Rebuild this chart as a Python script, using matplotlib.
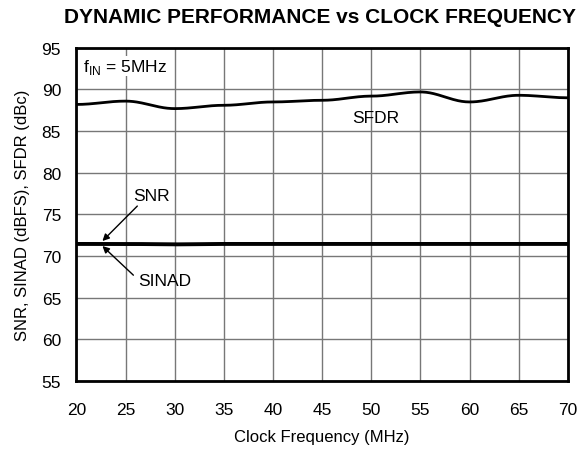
import numpy as np
from matplotlib import pyplot as plt

# clock frequency (MHz)
freq = [20, 25, 30, 35, 40, 45, 50, 55, 60, 65, 70]
sfdr = [88.2, 88.6, 87.7, 88.1, 88.5, 88.7, 89.2, 89.7, 88.5, 89.3, 89.0]
snr = [71.5, 71.5, 71.45, 71.5, 71.5, 71.5, 71.5, 71.5, 71.5, 71.5, 71.5]
sinad = [71.4, 71.4, 71.35, 71.4, 71.4, 71.4, 71.4, 71.4, 71.4, 71.4, 71.4]

xticks = np.arange(20, 75, 5)
yticks = np.arange(55, 100, 5)

plt.rcParams['font.family'] = ['Liberation Sans', 'DejaVu Sans']

fig = plt.figure(figsize=(5.83, 4.52), dpi=100)
ax = fig.add_axes([0.131, 0.155, 0.843, 0.737])

# smooth the read points for the drawn curves (cosine blend)
xs = np.linspace(20, 70, 400)
def smooth(x, y):
    out = np.empty_like(xs)
    for i, xv in enumerate(xs):
        j = min(np.searchsorted(x, xv, side='right') - 1, len(x) - 2)
        t = (xv - x[j]) / (x[j + 1] - x[j])
        w = (1 - np.cos(np.pi * t)) / 2
        out[i] = y[j] * (1 - w) + y[j + 1] * w
    return out

ax.plot(xs, smooth(freq, sfdr), color='black', lw=2)
ax.plot(xs, smooth(freq, snr), color='black', lw=2.2)
ax.plot(xs, smooth(freq, sinad), color='black', lw=2.2)

ax.set_xlim(20, 70)
ax.set_ylim(55, 95)
ax.set_xticks(xticks)
ax.set_yticks(yticks)
ax.tick_params(axis='x', length=0, labelsize=12.5, pad=15)
ax.tick_params(axis='y', length=0, labelsize=12.5, pad=11)
ax.grid(True, color='#777777', lw=1)
for s in ax.spines.values():
    s.set_linewidth(2)

ax.set_xlabel('Clock Frequency (MHz)', fontsize=12, labelpad=9)
ax.set_ylabel('SNR, SINAD (dBFS), SFDR (dBc)', fontsize=12, labelpad=8)
fig.text(0.549, 0.962, 'DYNAMIC PERFORMANCE vs CLOCK FREQUENCY',
         ha='center', va='center', fontsize=15, fontweight='bold')

ax.text(20.7, 92.8, r'f$_{\mathregular{IN}}$ = 5MHz', fontsize=12.5, va='center',
        bbox=dict(facecolor='white', edgecolor='none', pad=0.5))
ax.text(50.5, 86.6, 'SFDR', fontsize=12.5, ha='center', va='center')
ax.text(27.6, 77.3, 'SNR', fontsize=12.5, ha='center', va='center')
ax.text(29.0, 67.1, 'SINAD', fontsize=12.5, ha='center', va='center')
ax.annotate('', xy=(22.65, 71.8), xytext=(26.2, 76.0),
            arrowprops=dict(arrowstyle='-|>', color='black', lw=1,
                            shrinkA=0, shrinkB=0))
ax.annotate('', xy=(22.65, 71.2), xytext=(25.8, 67.7),
            arrowprops=dict(arrowstyle='-|>', color='black', lw=1,
                            shrinkA=0, shrinkB=0))

plt.savefig('out.png', dpi=100)
